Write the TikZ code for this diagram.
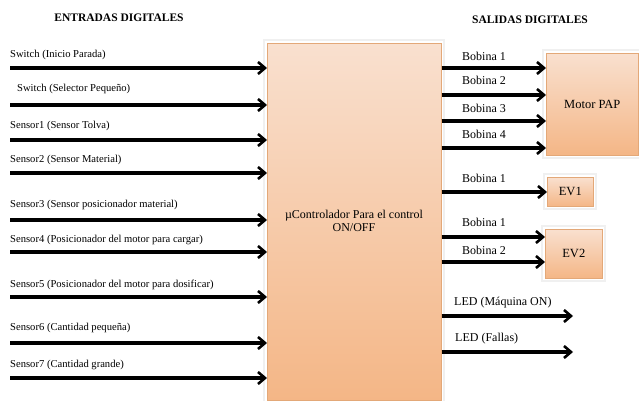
\documentclass[tikz,border=0pt]{standalone}
\usepackage{fontspec}
\setmainfont{Liberation Serif}
\usetikzlibrary{arrows.meta}
\definecolor{boxtop}{HTML}{F9E0CF}
\definecolor{boxbot}{HTML}{F4B686}
\definecolor{boxedge}{HTML}{E3A878}
\tikzset{
  x=1pt,y=-1pt,
  arr/.style={line width=3.2pt,-{Straight Barb[length=7pt,width=12pt,line width=2.6pt]}},
  lbl/.style={anchor=west,inner sep=0pt,font=\fontsize{12}{12}\selectfont},
  inlbl/.style={anchor=west,inner sep=0pt,font=\fontsize{10.6}{11}\selectfont},
  ttl/.style={inner sep=0pt,font=\bfseries\fontsize{11.5}{12}\selectfont},
  blockbox/.style={draw=boxedge,line width=0.6pt,top color=boxtop,bottom color=boxbot,inner sep=0pt,
     font=\fontsize{12.5}{13}\selectfont,align=center},
  halo/.style={draw=black!6,line width=2pt}
}
\begin{document}
\begin{tikzpicture}
\useasboundingbox (0,0) rectangle (639,401);
% titles
\node[ttl] (tin) at (119,18) {ENTRADAS DIGITALES};
\node[ttl] (tout) at (530,20) {SALIDAS DIGITALES};
% main block
\draw[halo] (264,40) rectangle (444,403);
\node[blockbox,minimum width=174,minimum height=357,anchor=north west] (main) at (267,43) {};
\node[inner sep=0pt,align=center,font=\fontsize{12}{13}\selectfont] (maintxt) at (354,221) {µControlador Para el control\\ON/OFF};
% output blocks
\draw[halo] (543,50) rectangle (640,158);
\node[blockbox,minimum width=92,minimum height=102,anchor=north west] (motor) at (546,53) {Motor PAP};
\draw[halo] (544,174) rectangle (596,209);
\node[blockbox,minimum width=46,minimum height=29,anchor=north west] (ev1) at (547,177) {EV1};
\draw[halo] (542,226) rectangle (605,281);
\node[blockbox,minimum width=57,minimum height=49,anchor=north west] (ev2) at (545,229) {EV2};
% inputs
\foreach \n/\ya/\yl/\xl/\t in {
 1/68/55/10/{Switch (Inicio Parada)},
 2/105/89/17/{Switch (Selector Pequeño)},
 3/140/126/10/{Sensor1 (Sensor Tolva)},
 4/173/160/10/{Sensor2 (Sensor Material)},
 5/220/205/10/{Sensor3 (Sensor posicionador material)},
 6/252/240/10/{Sensor4 (Posicionador del motor para cargar)},
 7/297/285/10/{Sensor5 (Posicionador del motor para dosificar)},
 8/343/328/10/{Sensor6 (Cantidad pequeña)},
 9/378/365/10/{Sensor7 (Cantidad grande)}}{
  \node[inlbl] (lin\n) at (\xl,\yl) {\t};
  \coordinate (sin\n) at (10,\ya);
  \draw[arr] (sin\n) -- (sin\n -| main.west);
}
% outputs to motor
\foreach \n/\ya/\yl/\t in {1/68/56/{Bobina 1},2/95/80/{Bobina 2},3/121/108/{Bobina 3},4/148/134/{Bobina 4}}{
  \node[lbl] (lm\n) at (462,\yl) {\t};
  \coordinate (sm\n) at (main.east |- 0,\ya);
  \draw[arr] (sm\n) -- (sm\n -| motor.west);
}
% EV1
\node[lbl] (le1) at (462,178) {Bobina 1};
\coordinate (se1) at (main.east |- 0,192);
\draw[arr] (se1) -- (se1 -| ev1.west);
% EV2
\node[lbl] (le21) at (462,222) {Bobina 1};
\coordinate (se21) at (main.east |- 0,237);
\draw[arr] (se21) -- (se21 -| ev2.west);
\node[lbl] (le22) at (462,250) {Bobina 2};
\coordinate (se22) at (main.east |- 0,262);
\draw[arr] (se22) -- (se22 -| ev2.west);
% LEDs
\node[lbl] (ll1) at (454,303) {LED (Máquina ON)};
\coordinate (sl1) at (main.east |- 0,316);
\coordinate (el1) at (573,316);
\draw[arr] (sl1) -- (el1);
\node[lbl] (ll2) at (455,339) {LED (Fallas)};
\coordinate (sl2) at (main.east |- 0,352);
\coordinate (el2) at (573,352);
\draw[arr] (sl2) -- (el2);
\end{tikzpicture}
\end{document}
